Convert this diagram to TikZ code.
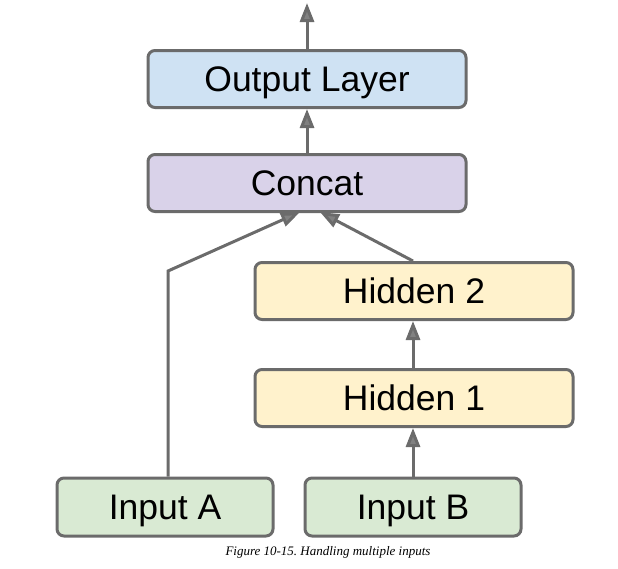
\documentclass[tikz,border=0pt]{standalone}
\usepackage{fontspec}
\setmainfont{Liberation Sans}
\newfontfamily\capfont{Liberation Serif}
\usetikzlibrary{arrows.meta}
\definecolor{edge}{HTML}{6B6B6B}
\definecolor{cblue}{HTML}{CFE2F3}
\definecolor{cpurple}{HTML}{D9D2E9}
\definecolor{cyellow}{HTML}{FFF2CC}
\definecolor{cgreen}{HTML}{D9EAD3}
\begin{document}
\begin{tikzpicture}[x=1pt,y=-1pt,
  layer/.style={draw=edge, line width=3pt, rounded corners=7pt, font=\fontsize{35.5}{38}\selectfont, inner sep=0pt, text height=25pt, text depth=0pt},
  conn/.style={draw=edge, line width=3pt, -{Triangle[length=19pt,width=14pt,fill=edge!85]}}]
\useasboundingbox (0,0) rectangle (618,568);
\node[layer, fill=cblue, minimum width=318pt, minimum height=57pt] (out) at (307,79) {Output Layer};
\node[layer, fill=cpurple, minimum width=318pt, minimum height=57pt] (cat) at (307,183) {Concat};
\node[layer, fill=cyellow, minimum width=318pt, minimum height=57pt] (h2) at (414,291) {Hidden 2};
\node[layer, fill=cyellow, minimum width=318pt, minimum height=57pt] (h1) at (414,398) {Hidden 1};
\node[layer, fill=cgreen, minimum width=216pt, minimum height=58pt] (ia) at (165,507) {Input A};
\node[layer, fill=cgreen, minimum width=216pt, minimum height=58pt] (ib) at (413,507) {Input B};
\node[font=\capfont\itshape\fontsize{13}{15}\selectfont] (cap) at (328,552) {Figure 10-15.\ Handling multiple inputs};
\coordinate (top) at (307,3);
\coordinate (bend) at (168,271);
\coordinate (catL) at (300,212);
\coordinate (catR) at (320,212);
\draw[conn] (out.north) -- (top);
\draw[conn] (cat.north) -- (out.south);
\draw[conn] (ia.north -| bend) -- (bend) -- (catL);
\draw[conn] (h2.north -| 413,0) -- (catR);
\draw[conn] (h1.north -| 413,0) -- (h2.south -| 413,0);
\draw[conn] (ib.north -| 413,0) -- (h1.south -| 413,0);
\end{tikzpicture}
\end{document}
